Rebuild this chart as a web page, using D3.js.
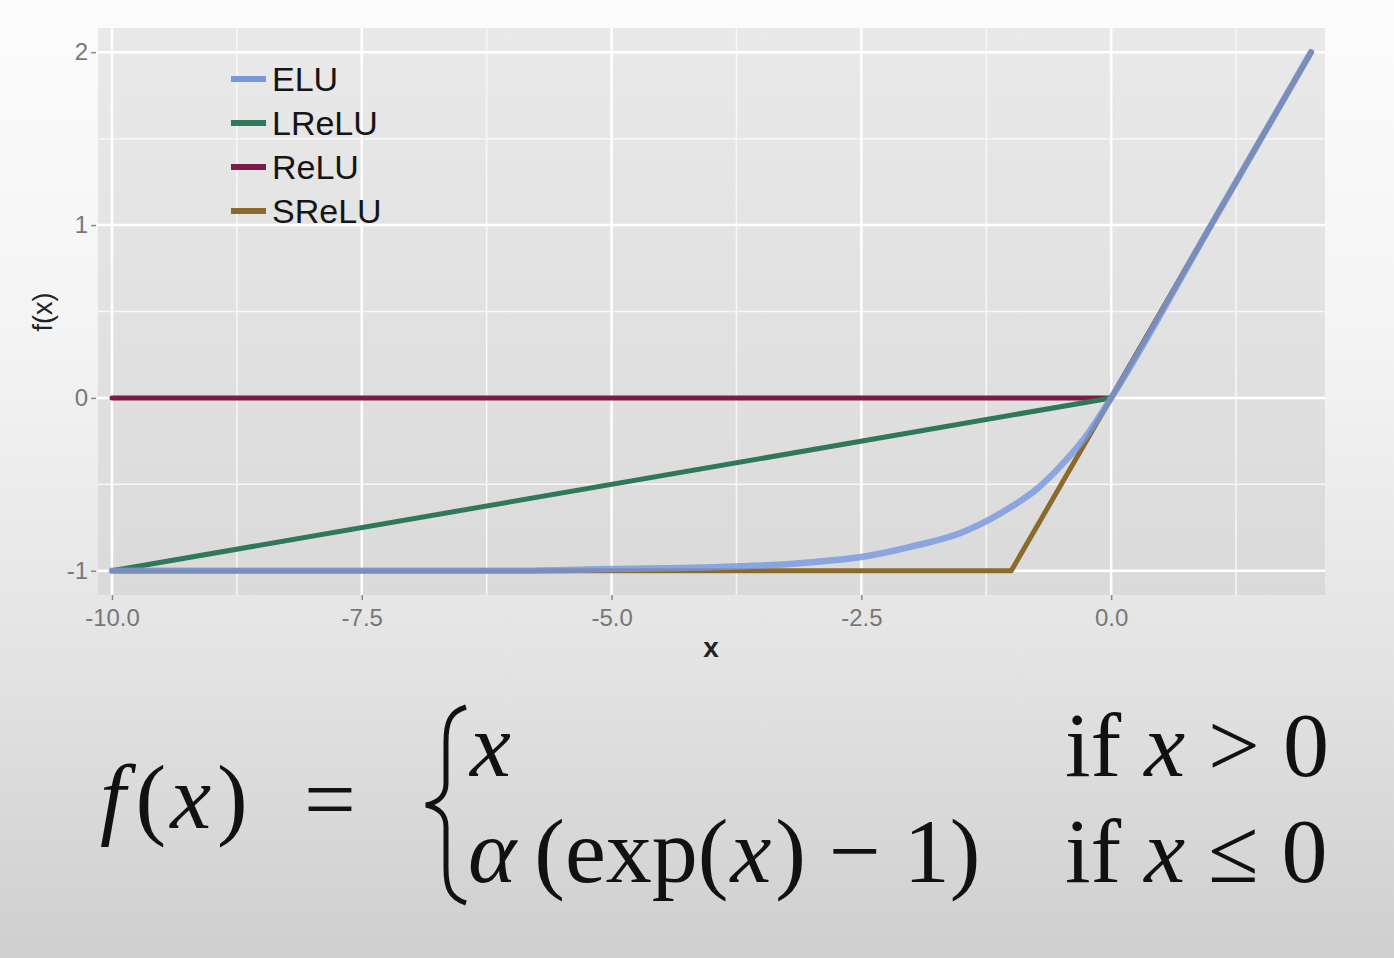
<!DOCTYPE html>
<html>
<head>
<meta charset="utf-8">
<script src="https://cdn.jsdelivr.net/npm/d3@7"></script>
<style>
  body { margin: 0; padding: 0; overflow: hidden; }
  svg { display: block; }
</style>
</head>
<body>
<div id="chart"></div>
<script>
// Series
var seriesNames = ["ELU", "LReLU", "ReLU", "SReLU"];
var seriesColors = ["#7797de", "#2f7859", "#7a1c47", "#8a6b2c"];

var eluX = [-10, -8, -6, -5, -4, -3.5, -3, -2.5, -2, -1.5, -1, -0.75, -0.5, -0.25, 0, 1, 2];
var eluY = [-1, -1, -1, -0.99, -0.98, -0.97, -0.95, -0.92, -0.86, -0.78, -0.63, -0.53, -0.39, -0.22, 0, 1, 2];
var lreluX = [-10, 0, 2];
var lreluY = [-1, 0, 2];
var reluX = [-10, 0, 2];
var reluY = [0, 0, 2];
var sreluX = [-10, -1, 0, 2];
var sreluY = [-1, -1, 0, 2];

// Tick values and labels
var xTicks = [-10, -7.5, -5, -2.5, 0];
var xTickLabels = ["-10.0", "-7.5", "-5.0", "-2.5", "0.0"];
var xMinor = [-8.75, -6.25, -3.75, -1.25, 1.25];
var yTicks = [-1, 0, 1, 2];
var yTickLabels = ["-1", "0", "1", "2"];
var yMinor = [-0.5, 0.5, 1.5];

function init() {
    var w = 1394;
    var h = 958;
    var panel = { left: 98, right: 1325, top: 28, bottom: 595 };

    var svg = d3.select("#chart")
        .append("svg")
        .attr("width", w)
        .attr("height", h);

    var defs = svg.append("defs");

    // page background: light at top, greyer towards the bottom
    var bg = defs.append("linearGradient")
        .attr("id", "bg").attr("x1", 0).attr("y1", 0).attr("x2", 0).attr("y2", 1);
    bg.append("stop").attr("offset", "0%").attr("stop-color", "#fcfcfc");
    bg.append("stop").attr("offset", "35%").attr("stop-color", "#f4f4f4");
    bg.append("stop").attr("offset", "68%").attr("stop-color", "#e4e4e4");
    bg.append("stop").attr("offset", "100%").attr("stop-color", "#cfcfcf");

    var pg = defs.append("linearGradient")
        .attr("id", "pg").attr("x1", 0).attr("y1", 0).attr("x2", 0).attr("y2", 1);
    pg.append("stop").attr("offset", "0%").attr("stop-color", "#e9e9e9");
    pg.append("stop").attr("offset", "100%").attr("stop-color", "#dadada");

    svg.append("rect")
        .attr("width", w).attr("height", h)
        .attr("fill", "url(#bg)");

    // scales
    var x = d3.scaleLinear()
        .domain([-10.14, 2.14])
        .range([panel.left, panel.right]);

    var y = d3.scaleLinear()
        .domain([-1.14, 2.14])
        .range([panel.bottom, panel.top]);

    // panel background
    svg.append("rect")
        .attr("x", panel.left)
        .attr("y", panel.top)
        .attr("width", panel.right - panel.left)
        .attr("height", panel.bottom - panel.top)
        .attr("fill", "url(#pg)");

    // grid lines, minor then major
    var grid = svg.append("g");
    grid.selectAll(".vminor").data(xMinor).enter().append("line")
        .attr("x1", function (d) { return x(d); }).attr("x2", function (d) { return x(d); })
        .attr("y1", panel.top).attr("y2", panel.bottom)
        .attr("stroke", "#f7f7f7").attr("stroke-width", 1.5);
    grid.selectAll(".hminor").data(yMinor).enter().append("line")
        .attr("y1", function (d) { return y(d); }).attr("y2", function (d) { return y(d); })
        .attr("x1", panel.left).attr("x2", panel.right)
        .attr("stroke", "#f7f7f7").attr("stroke-width", 1.5);
    grid.selectAll(".vmajor").data(xTicks).enter().append("line")
        .attr("x1", function (d) { return x(d); }).attr("x2", function (d) { return x(d); })
        .attr("y1", panel.top).attr("y2", panel.bottom)
        .attr("stroke", "#ffffff").attr("stroke-width", 2.5);
    grid.selectAll(".hmajor").data(yTicks).enter().append("line")
        .attr("y1", function (d) { return y(d); }).attr("y2", function (d) { return y(d); })
        .attr("x1", panel.left).attr("x2", panel.right)
        .attr("stroke", "#ffffff").attr("stroke-width", 2.5);

    // axes
    var xAxis = d3.axisBottom(x)
        .tickValues(xTicks)
        .tickSize(5)
        .tickPadding(9)
        .tickFormat(function (d, i) { return xTickLabels[i]; });

    var gx = svg.append("g")
        .attr("transform", "translate(0," + panel.bottom + ")")
        .call(xAxis);

    var yAxis = d3.axisLeft(y)
        .tickValues(yTicks)
        .tickSize(5)
        .tickPadding(3)
        .tickFormat(function (d, i) { return yTickLabels[i]; });

    var gy = svg.append("g")
        .attr("transform", "translate(" + (panel.left - 2) + ",0)")
        .call(yAxis);

    [gx, gy].forEach(function (g) {
        g.select(".domain").remove();
        g.selectAll(".tick line").attr("stroke", "#8a8a8a").attr("stroke-width", 1.5);
        g.selectAll(".tick text")
            .attr("fill", "#777")
            .style("font-family", "'Liberation Sans', Arial, sans-serif")
            .style("font-size", "24px");
    });

    // axis titles
    svg.append("text")
        .attr("x", 711)
        .attr("y", 657)
        .attr("text-anchor", "middle")
        .style("font-family", "'Liberation Sans', Arial, sans-serif")
        .style("font-size", "28px")
        .style("font-weight", "bold")
        .attr("fill", "#222")
        .text("x");

    svg.append("text")
        .attr("transform", "translate(52,312) rotate(-90)")
        .attr("text-anchor", "middle")
        .style("font-family", "'Liberation Sans', Arial, sans-serif")
        .style("font-size", "27px")
        .attr("fill", "#222")
        .text("f(x)");

    // lines
    var line = d3.line()
        .x(function (d) { return x(d[0]); })
        .y(function (d) { return y(d[1]); });

    var eluLine = d3.line()
        .x(function (d) { return x(d[0]); })
        .y(function (d) { return y(d[1]); })
        .curve(d3.curveMonotoneX);

    function pairs(xs, ys) { return xs.map(function (v, i) { return [v, ys[i]]; }); }

    var lines = svg.append("g")
        .attr("fill", "none")
        .attr("stroke-linejoin", "round")
        .attr("stroke-linecap", "round");

    lines.append("path").datum(pairs(reluX, reluY))
        .attr("d", line).attr("stroke", seriesColors[2]).attr("stroke-width", 5);
    lines.append("path").datum(pairs(lreluX, lreluY))
        .attr("d", line).attr("stroke", seriesColors[1]).attr("stroke-width", 5);
    lines.append("path").datum(pairs(sreluX, sreluY))
        .attr("d", line).attr("stroke", seriesColors[3]).attr("stroke-width", 5);
    lines.append("path").datum(pairs(eluX, eluY))
        .attr("d", eluLine).attr("stroke", seriesColors[0]).attr("stroke-width", 6.5)
        .attr("stroke-opacity", 0.8);

    // legend, placed inside the panel
    var legend = svg.append("g")
        .attr("transform", "translate(231,79)");

    var item = legend.selectAll("g")
        .data(seriesNames)
        .enter()
        .append("g")
        .attr("transform", function (d, i) { return "translate(0," + (i * 44) + ")"; });

    item.append("line")
        .attr("x1", 0).attr("x2", 35)
        .attr("stroke", function (d, i) { return seriesColors[i]; })
        .attr("stroke-width", 6);

    item.append("text")
        .attr("x", 41)
        .attr("dy", "0.36em")
        .style("font-family", "'Liberation Sans', Arial, sans-serif")
        .style("font-size", "34px")
        .attr("fill", "#151515")
        .text(function (d) { return d; });

    // formula below the chart
    var serif = "'Liberation Serif', serif";
    var formula = svg.append("g")
        .attr("fill", "#111")
        .style("font-family", serif)
        .style("font-size", "92px");

    var lhs = formula.append("text").attr("x", 100).attr("y", 828);
    lhs.append("tspan").style("font-style", "italic").text("f");
    lhs.append("tspan").attr("dx", 10).text("(");
    lhs.append("tspan").attr("dx", 4).style("font-style", "italic").text("x");
    lhs.append("tspan").attr("dx", 6).text(")");

    formula.append("text").attr("x", 304).attr("y", 830).text("=");

    // curly brace
    formula.append("path")
        .attr("d", "M466,707 C450,712 446,722 446,742 L446,783 C446,795 440,802 426,805 " +
                   "C440,808 446,815 446,827 L446,868 C446,888 450,898 466,903")
        .attr("fill", "none")
        .attr("stroke", "#111")
        .attr("stroke-width", 5);

    var r1 = formula.append("text").attr("x", 470).attr("y", 776);
    r1.append("tspan").style("font-style", "italic").text("x");

    var r2 = formula.append("text").attr("x", 468).attr("y", 882);
    r2.append("tspan").style("font-style", "italic").text("α");
    r2.append("tspan").attr("dx", 18).text("(exp(");
    r2.append("tspan").attr("dx", 2).style("font-style", "italic").text("x");
    r2.append("tspan").attr("dx", 4).text(") − 1)");

    var c1 = formula.append("text").attr("x", 1065).attr("y", 776);
    c1.append("tspan").text("if ");
    c1.append("tspan").style("font-style", "italic").text("x");
    c1.append("tspan").text(" > 0");

    var c2 = formula.append("text").attr("x", 1065).attr("y", 882);
    c2.append("tspan").text("if ");
    c2.append("tspan").style("font-style", "italic").text("x");
    c2.append("tspan").text(" ≤ 0");
}
window.onload = init;
</script>
</body>
</html>
